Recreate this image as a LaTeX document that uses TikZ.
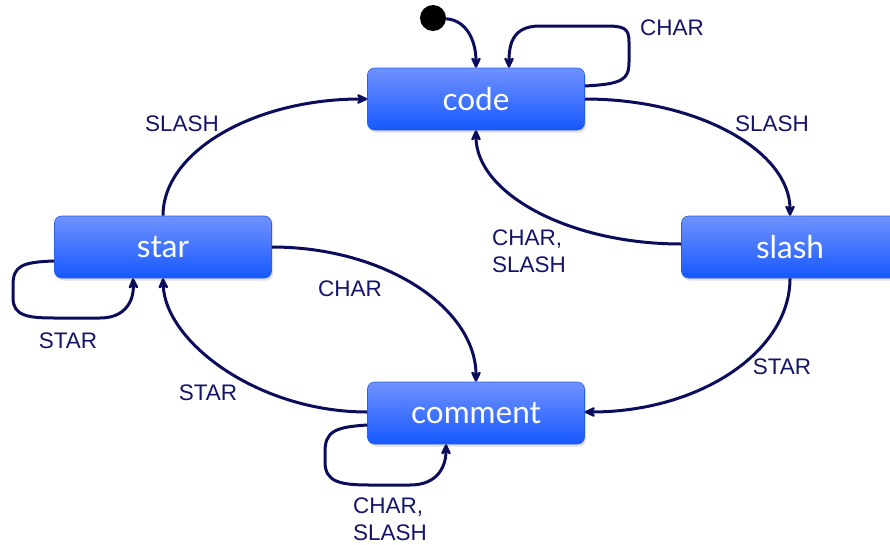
\documentclass[tikz,border=0pt]{standalone}
\usepackage{fontspec}
\setmainfont{Liberation Sans}
\newfontfamily\nodefont{Lato}
\usetikzlibrary{arrows.meta,shadows}
\definecolor{edgec}{RGB}{12,12,92}
\definecolor{labc}{RGB}{20,20,105}
\definecolor{ntop}{RGB}{112,146,255}
\definecolor{nbot}{RGB}{22,88,255}
\definecolor{nborder}{RGB}{40,95,235}
\tikzset{
  state/.style={rectangle, rounded corners=7pt, minimum width=217pt, minimum height=62pt,
    top color=ntop, bottom color=nbot, draw=nborder, line width=0.6pt, text=white,
    font=\nodefont\fontsize{31.5}{33}\selectfont,
    drop shadow={shadow xshift=1.5pt, shadow yshift=-2.5pt, opacity=0.25}},
  initdot/.style={circle, fill=black, minimum size=26pt, inner sep=0pt},
  tr/.style={draw=edgec, line width=3pt, -{Stealth[length=14pt,width=13pt,inset=5pt,round]}},
  lab/.style={text=labc, font=\fontsize{22.5}{27}\selectfont, align=left, inner sep=0pt}
}
\begin{document}
\begin{tikzpicture}[x=1pt,y=-1pt]
\useasboundingbox (0,0) rectangle (890,544);
\node[state] (code) at (476,99) {code};
\node[state] (slash) at (790,247) {slash};
\node[state] (star) at (163,247) {star};
\node[state] (comment) at (476,413) {comment};
\node[initdot] (init) at (433,18) {};

% initial
\draw[tr] (init) .. controls (466,20) and (476,40) .. (code.north);
% code self loop
\draw[tr] ([yshift=13pt]code.east) .. controls (622,84) and (629,80) .. (629,62) -- (629,42)
  .. controls (629,28) and (624,26) .. (605,26) -- (540,26)
  .. controls (514,26) and (509,42) .. ([xshift=33pt]code.north);
% code -> slash
\draw[tr] (code.east) .. controls (698,99) and (790,151) .. (slash.north);
% slash -> code
\draw[tr] ([yshift=3pt]slash.west) .. controls (568,244) and (476,193) .. (code.south);
% slash -> comment
\draw[tr] (slash.south) .. controls (790,352) and (699,412) .. ([yshift=1pt]comment.east);
% comment -> star
\draw[tr] ([yshift=1pt]comment.west) .. controls (258,412) and (165,342) .. (star.south);
% star -> comment
\draw[tr] (star.east) .. controls (385,247) and (476,308) .. (comment.north);
% star -> code
\draw[tr] (star.north) .. controls (163,151) and (255,99) .. (code.west);
% star self loop
\draw[tr] ([yshift=-14pt]star.west) .. controls (22,262) and (13,266) .. (13,285) -- (13,298)
  .. controls (13,316) and (28,318) .. (55,318) -- (100,318)
  .. controls (126,318) and (134,300) .. ([xshift=-30pt]star.south);
% comment self loop
\draw[tr] ([yshift=-12pt]comment.west) .. controls (334,427) and (325,432) .. (325,452) -- (325,462)
  .. controls (325,482) and (340,485) .. (370,485) -- (410,485)
  .. controls (438,485) and (446,466) .. ([xshift=-30pt]comment.south);

% labels
\node[lab] (l1) at (672,28) {CHAR};
\node[lab] (l2) at (772,124) {SLASH};
\node[lab, anchor=west] (l3) at (492,251) {CHAR,\\SLASH};
\node[lab] (l4) at (182,124) {SLASH};
\node[lab] (l5) at (350,289) {CHAR};
\node[lab] (l6) at (782,367) {STAR};
\node[lab] (l7) at (208,393) {STAR};
\node[lab] (l8) at (68,341) {STAR};
\node[lab, anchor=west] (l9) at (353,519) {CHAR,\\SLASH};
\end{tikzpicture}
\end{document}
